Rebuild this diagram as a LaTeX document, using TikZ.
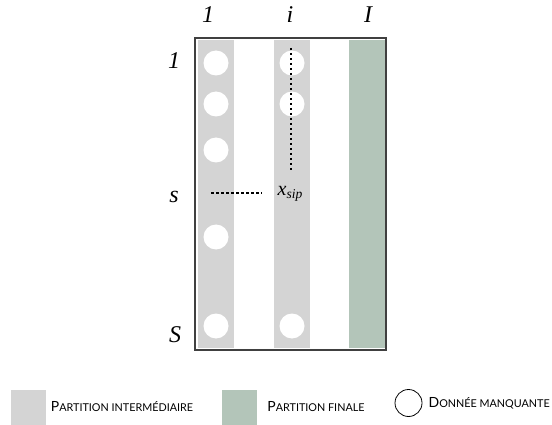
\documentclass[tikz,border=0pt]{standalone}
\usepackage{fontspec}
\setmainfont{Liberation Serif}
\newfontfamily\legfont{Lato}
\usetikzlibrary{positioning}
\definecolor{partgris}{HTML}{D4D4D4}
\definecolor{partvert}{HTML}{B3C5B9}
\newcommand\petitcap[2]{{\fontsize{14}{14}\selectfont #1}{\fontsize{10.8}{11}\selectfont #2}}
\tikzset{
  coltint/.style={fill=partgris},
  colfin/.style={fill=partvert},
  manq/.style={circle, fill=white, minimum size=25pt, inner sep=0pt},
  lbl/.style={font=\fontsize{24}{24}\selectfont\itshape, anchor=base, inner sep=0pt},
  legcarre/.style={minimum size=35pt, inner sep=0pt},
  leg/.style={font=\legfont, inner sep=0pt, anchor=west},
  pointille/.style={dash pattern=on 2.5pt off 2.5pt, line width=1.1pt}
}
\begin{document}
\begin{tikzpicture}[x=1pt,y=-1pt]
\useasboundingbox (0,0) rectangle (552,425);

% colonnes
\fill[coltint] (198,40) rectangle (234,348);
\fill[coltint] (274,40) rectangle (310,348);
\fill[colfin] (349,40) rectangle (385,348);
\draw[line width=1.3pt, draw=black!75] (195,38) rectangle (386,350);

% indices
\draw (208,23) node[lbl] (c1) {1};
\draw (290,23) node[lbl] (ci) {i};
\draw (368,23) node[lbl] (cI) {I};
\draw (174,69) node[lbl] (r1) {1};
\draw (174,203) node[lbl] (rs) {s};
\draw (175,342) node[lbl] (rS) {S};

% donnees manquantes
\foreach \y/\n in {63/a,104/b,150/c,237/d,326/e}
  \node[manq] (m1\n) at (216,\y) {};
\foreach \y/\n in {63/a,104/b,326/e}
  \node[manq] (mi\n) at (292,\y) {};

% x_sip
\draw (290,196) node[anchor=base, inner sep=15pt] (xsip)
  {\fontsize{20}{20}\selectfont\itshape x\raisebox{-3pt}{\fontsize{13.5}{13.5}\selectfont sip}};
\coordinate (vhaut) at (291,48);
\coordinate (hgauche) at (211,193);
\draw[pointille] (vhaut) -- (vhaut |- xsip.north);
\draw[pointille] (hgauche) -- (hgauche -| xsip.west);

% legende
\node[legcarre, fill=partgris] (lgris) at (28,407) {};
\node[leg, right=5pt of lgris] (tgris) {\petitcap{P}{ARTITION INTERMÉDIAIRE}};
\node[legcarre, fill=partvert] (lvert) at (239.5,407) {};
\node[leg, right=10pt of lvert] (tvert) {\petitcap{P}{ARTITION FINALE}};
\node[draw, circle, minimum size=27pt, inner sep=0pt, line width=0.8pt] (lrond) at (408.5,403) {};
\node[leg, right=6pt of lrond] (trond) {\petitcap{D}{ONNÉE MANQUANTE}};
\end{tikzpicture}
\end{document}
